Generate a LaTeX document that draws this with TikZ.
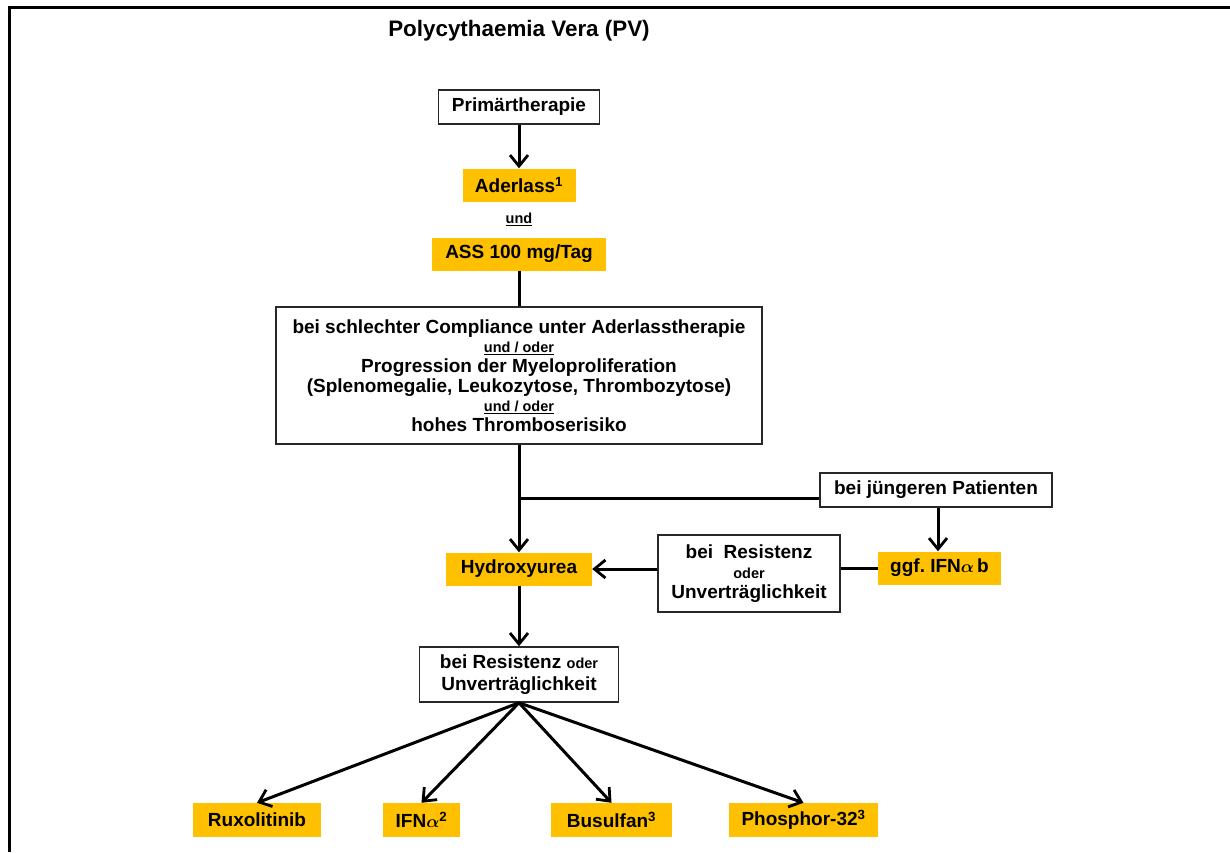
\documentclass[tikz,border=0pt]{standalone}
\usepackage{fontspec}
\setmainfont{Liberation Sans}
\usetikzlibrary{arrows.meta,positioning}
\definecolor{therapy}{RGB}{255,192,0}
\definecolor{frame}{RGB}{40,40,40}
\newcommand{\klein}{\fontsize{14.5}{16}\selectfont}

\begin{document}
\begin{tikzpicture}[x=1pt, y=-1pt,
            >={Straight Barb[length=11pt,width=18pt,line width=2.8pt]},
            every node/.style={align=center, inner sep=0pt, font=\fontsize{19}{19.6}\selectfont\bfseries},
            box/.style={draw=frame, line width=1.5pt, fill=white},
            drug/.style={fill=therapy, minimum height=33pt},
            flow/.style={line width=3pt}]

            \useasboundingbox (0,0) rectangle (1230,852);
            \draw[line width=3pt] (9.5,852) -- (9.5,7.5) -- (1230,7.5);

            % Titel
            \node[font=\fontsize{22.4}{26}\selectfont\bfseries] (title) at (519,31) {Polycythaemia Vera (PV)};

            % Primaertherapie
            \node[box, minimum width=161pt, minimum height=34pt] (prim) at (519,107) {Primärtherapie};
            \node[drug, minimum width=113pt, below of=prim, node distance=78pt] (aderlass) {Aderlass\textsuperscript{1}};
            \node[font=\klein\bfseries, below of=aderlass, node distance=34pt] (und) {\underline{und}};
            \node[drug, minimum width=174pt, below of=und, node distance=35pt] (ass) {ASS 100 mg/Tag};

            % Kriterien
            \node[box, minimum width=486pt, minimum height=137pt, below of=ass, node distance=121.5pt] (big)
                {bei schlechter Compliance unter Aderlasstherapie\\
                 {\klein\underline{und / oder}}\\
                 Progression der Myeloproliferation\\
                 (Splenomegalie, Leukozytose, Thrombozytose)\\
                 {\klein\underline{und / oder}}\\
                 hohes Thromboserisiko};

            % Zytoreduktion
            \node[drug, minimum width=146pt, below of=big, node distance=193.5pt] (hydro) {Hydroxyurea};
            \node[box, minimum width=232pt, minimum height=34pt] (jung) at (936,490) {bei jüngeren Patienten};
            \node[drug, minimum width=123pt] (ifnb) at (939.5,568) {ggf.\ IFN{\boldmath$\alpha$}\,b};
            \node[box, minimum width=182pt, minimum height=77pt] (resist) at (749,573.5)
                {bei~~Resistenz\\[1pt] {\klein oder}\\ Unverträglichkeit};
            \node[box, minimum width=199pt, minimum height=55pt, below of=hydro, node distance=105.5pt] (res2)
                {bei Resistenz {\klein oder}\\[2pt] Unverträglichkeit};

            % Zweitlinie
            \node[drug, minimum width=128pt, minimum height=34pt] (rux) at (257,820) {Ruxolitinib};
            \node[drug, minimum width=77pt, minimum height=34pt] (ifna) at (421.5,820) {IFN{\boldmath$\alpha$}\textsuperscript{2}};
            \node[drug, minimum width=121pt, minimum height=34pt] (busulfan) at (611.5,820) {Busulfan\textsuperscript{3}};
            \node[drug, minimum width=149pt, minimum height=34pt] (phos) at (803.5,820) {Phosphor-32\textsuperscript{3}};

            % Pfeile
            \draw[flow, ->] (prim) -- (aderlass);
            \draw[flow] (ass) -- (big);
            \draw[flow, ->] (big) -- (hydro);
            \coordinate (junc) at (big.south |- 0,498);
            \draw[flow] (junc) -- (junc -| jung.west);
            \draw[flow, ->] ([xshift=2pt]jung.south) -- ([xshift=2pt]jung.south |- ifnb.north);
            \draw[flow] (ifnb.west) -- (ifnb.west -| resist.east);
            \draw[flow, ->] (resist.west |- hydro.east) -- (hydro.east);
            \draw[flow, ->] (hydro) -- (res2);
            \foreach \n in {rux, ifna, busulfan, phos}
                \draw[flow, ->] (res2.south) -- (\n.north);

        \end{tikzpicture}
\end{document}
